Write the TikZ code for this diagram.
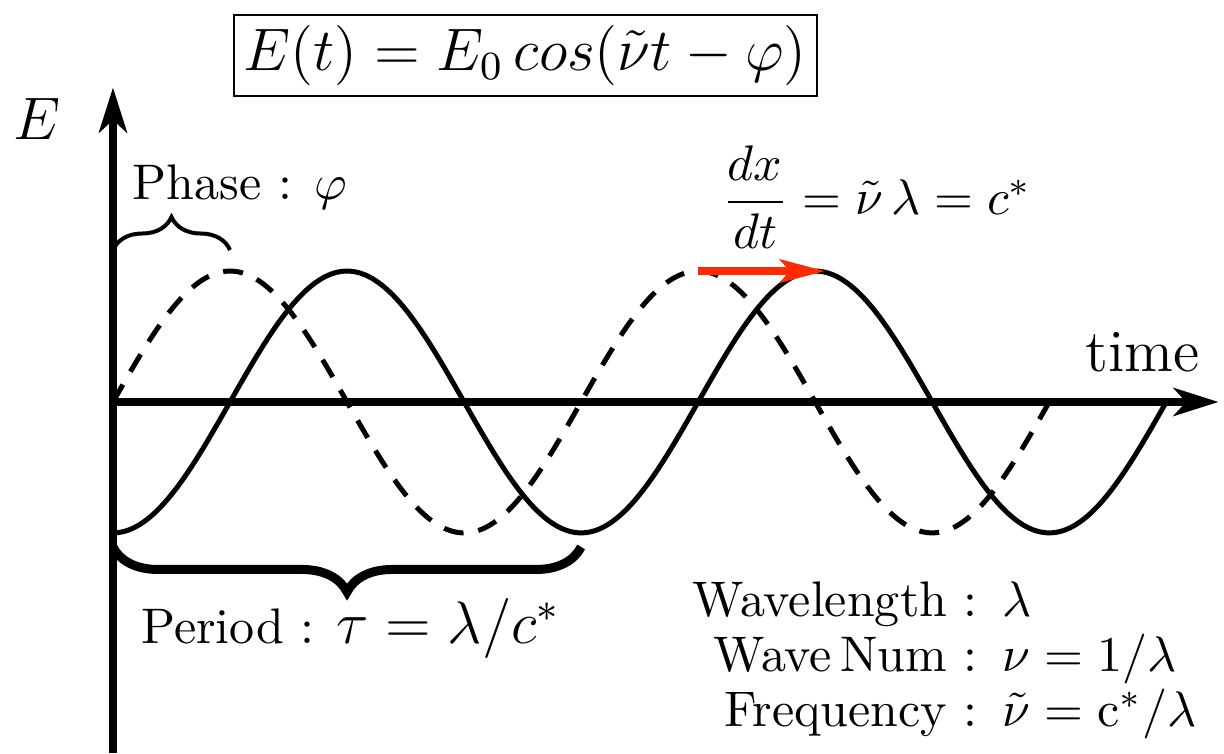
\documentclass[tikz,border=0pt]{standalone}
\usepackage{amsmath}
\usepackage{xcolor}
\usetikzlibrary{arrows.meta,decorations.pathreplacing}
\definecolor{shiftred}{HTML}{FF2A00}
\newcommand{\wavelen}{3.29}
\newcommand{\waveamp}{0.92}

\begin{document}
\begin{tikzpicture}[
  axis/.style={line width=1.5pt, -{Stealth[length=9pt,width=5.6pt,inset=2.5pt]}},
  wave/.style={line width=1pt},
  wavedash/.style={wave, dash pattern=on 4pt off 3pt},
  bracedeco/.style={decorate, decoration={brace, amplitude=#1}},
  shiftarrow/.style={shiftred, line width=1.6pt, -{Stealth[length=9pt,width=4.6pt,inset=2pt]}}
]
  \useasboundingbox (-0.794,-2.467) rectangle (7.808,2.825);

  % axes
  \coordinate (origin) at (0,0);
  \coordinate (ybot) at (0,-2.47);
  \coordinate (ytop) at (0,2.21);
  \coordinate (xend) at (7.77,0);
  \draw[axis] (ybot) -- (ytop);
  \draw[axis] (origin) -- (xend);
  \node[font=\large] (elabel) at (-0.534,1.989) {$E$};
  \node[font=\large, anchor=base east] (tlabel) at (7.76,0.211) {time};

  % the two waves
  \draw[wave] plot[domain=0:2.25*\wavelen, samples=200, smooth]
    (\x, {-\waveamp*cos(360*\x/\wavelen)});
  \draw[wavedash] plot[domain=0:2*\wavelen, samples=200, smooth]
    (\x, {\waveamp*sin(360*\x/\wavelen)});

  % equation
  \node[draw, font=\large, inner sep=2pt] (eqbox) at (2.896,2.435)
    {$E(t) = E_0\,cos(\tilde{\nu} t - \varphi)$};

  % phase
  \coordinate (phaseL) at (0,1.068);
  \coordinate (phaseR) at (0.25*\wavelen,1.068);
  \draw[bracedeco=6.6pt, line width=0.8pt] (phaseL) -- (phaseR);
  \node (phaselabel) at (0.893,1.511) {Phase : $\varphi$};

  % shift of the crest
  \coordinate (dpeak) at (1.25*\wavelen,\waveamp);
  \coordinate (speak) at (1.5*\wavelen,\waveamp);
  \draw[shiftarrow, shorten >=-2pt] (dpeak) -- (speak);
  \node (ratelabel) at (5.369,1.437)
    {$\dfrac{dx}{dt} = \tilde{\nu}\,\lambda = c^*$};

  % period
  \coordinate (periodL) at (0,-1.019);
  \coordinate (periodR) at (\wavelen,-1.019);
  \draw[bracedeco=9pt, line width=1.8pt] (periodR) -- (periodL);
  \node[anchor=base] (periodlabel) at (1.673,-1.694)
    {Period : {\large$\tau = \lambda/c^*$}};

  % definitions
  \node[anchor=north west, inner sep=0pt] (deflist) at (4.069,-1.226) {%
    \renewcommand{\arraystretch}{0.92}%
    \begin{tabular}{@{}r@{\ :\ \,}l@{}}
      Wavelength & $\lambda$ \\
      Wave\,Num & $\nu = 1/\lambda$ \\
      Frequency & $\tilde{\nu} = \mathrm{c}^*/\lambda$
    \end{tabular}};
\end{tikzpicture}
\end{document}
